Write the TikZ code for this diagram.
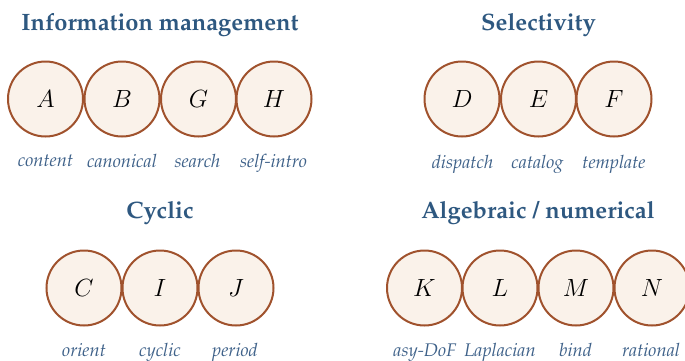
\documentclass[tikz,border=0pt]{standalone}
\usepackage[T1]{fontenc}
\renewcommand{\rmdefault}{ppl}
\definecolor{titleblue}{HTML}{2E5880}
\definecolor{labelblue}{HTML}{3E6189}
\definecolor{ringbrown}{HTML}{A0522D}
\definecolor{ringfill}{HTML}{FAF2EA}
\tikzset{
  ring/.style={circle, draw=ringbrown, fill=ringfill, line width=2pt, minimum size=75pt, inner sep=0pt, font=\fontsize{34}{34}\selectfont},
  grouptitle/.style={anchor=base, text=titleblue, font=\fontsize{23.7}{25}\selectfont\bfseries},
  tag/.style={anchor=base, text=labelblue, font=\fontsize{18.3}{20}\selectfont\itshape},
}
\begin{document}
\begin{tikzpicture}[x=1pt,y=1pt]
\useasboundingbox (0,0) rectangle (685,-360);
% Information management
\node[grouptitle] (t1) at (160,-30) {Information management};
\node[ring] (A) at (45.5,-99) {$A$};
\node[ring] (B) at (122,-99) {$B$};
\node[ring] (G) at (198.5,-99) {$G$};
\node[ring] (H) at (274,-99) {$H$};
\node[tag] (lA) at (45.5,-166) {content};
\node[tag] (lB) at (122,-167) {canonical};
\node[tag] (lG) at (197.5,-167) {search};
\node[tag] (lH) at (273.5,-167) {self-intro};
% Selectivity
\node[grouptitle] (t2) at (538.5,-30) {Selectivity};
\node[ring] (D) at (462,-99) {$D$};
\node[ring] (E) at (538.5,-99) {$E$};
\node[ring] (F) at (614,-99) {$F$};
\node[tag] (lD) at (462.5,-168) {dispatch};
\node[tag] (lE) at (537.5,-168) {catalog};
\node[tag] (lF) at (614,-168) {template};
% Cyclic
\node[grouptitle] (t3) at (160,-218) {Cyclic};
\node[ring] (C) at (84,-288) {$C$};
\node[ring] (I) at (160,-288) {$I$};
\node[ring] (J) at (236,-288) {$J$};
\node[tag] (lC) at (84,-356) {orient};
\node[tag] (lI) at (160,-356) {cyclic};
\node[tag] (lJ) at (235,-356) {period};
% Algebraic / numerical
\node[grouptitle] (t4) at (538,-218) {Algebraic / numerical};
\node[ring] (K) at (424.5,-288) {$K$};
\node[ring] (L) at (500,-288) {$L$};
\node[ring] (M) at (576,-288) {$M$};
\node[ring] (N) at (652,-288) {$N$};
\node[tag] (lK) at (425,-356) {asy-DoF};
\node[tag] (lL) at (500,-356) {Laplacian};
\node[tag] (lM) at (575.5,-356) {bind};
\node[tag] (lN) at (651,-356) {rational};
\end{tikzpicture}
\end{document}
